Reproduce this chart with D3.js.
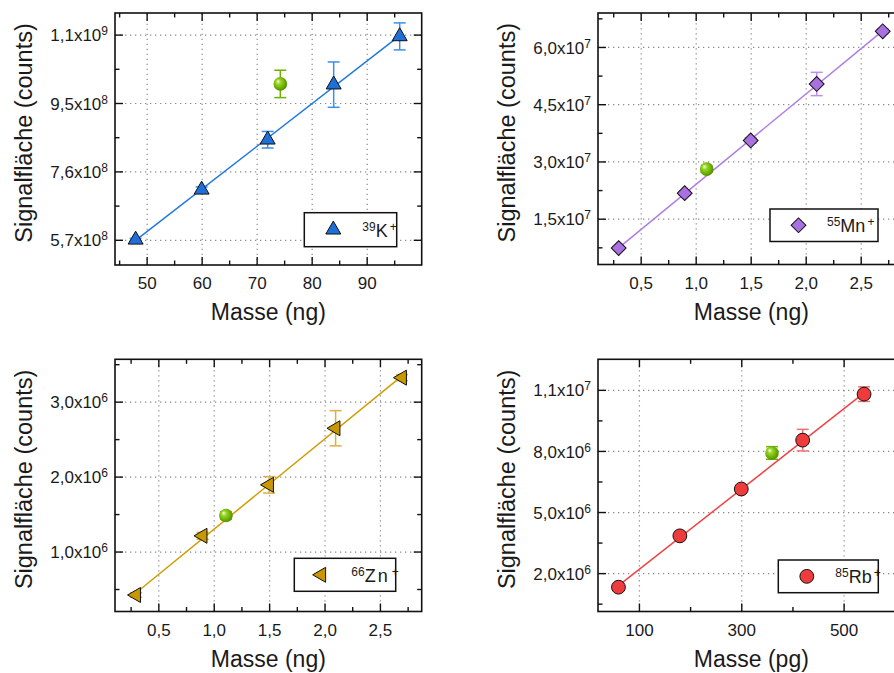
<!DOCTYPE html>
<html><head><meta charset="utf-8">
<script src="https://cdn.jsdelivr.net/npm/d3@7"></script>
<style>
body{margin:0;background:#fff}
svg{display:block}
text{font-family:"Liberation Sans",Arial,sans-serif;fill:#1a1a1a}
</style>
</head><body>
<svg id="c" width="894" height="673"></svg>
<script>
// ---------- data ----------
// 39K+
const kMass = [48, 60, 72, 84, 96];
const kSignal = [5.70e8, 7.09e8, 8.48e8, 10.01e8, 11.35e8];
const kErr = [0.04e8, 0.08e8, 0.23e8, 0.63e8, 0.375e8];
const kRefMass = [74.3];
const kRefSignal = [10.03e8];
const kRefErr = [0.38e8];
const kXTicks = [50, 60, 70, 80, 90];
const kXTickLabels = ["50", "60", "70", "80", "90"];
const kXMinor = [45, 55, 65, 75, 85, 95];
const kYTicks = [5.7e8, 7.6e8, 9.5e8, 11.4e8];
const kYTickLabels = ["5,7x10^8", "7,6x10^8", "9,5x10^8", "1,1x10^9"];
const kYMinor = [6.65e8, 8.55e8, 10.45e8];

// 55Mn+
const mnMass = [0.3, 0.9, 1.5, 2.1, 2.7];
const mnSignal = [0.73e7, 2.17e7, 3.55e7, 5.03e7, 6.41e7];
const mnErr = [0.04e7, 0.05e7, 0.07e7, 0.305e7, 0.06e7];
const mnRefMass = [1.1];
const mnRefSignal = [2.80e7];
const mnRefErr = [0.08e7];
const mnXTicks = [0.5, 1.0, 1.5, 2.0, 2.5];
const mnXTickLabels = ["0,5", "1,0", "1,5", "2,0", "2,5"];
const mnXMinor = [0.25, 0.75, 1.25, 1.75, 2.25, 2.75];
const mnYTicks = [1.5e7, 3.0e7, 4.5e7, 6.0e7];
const mnYTickLabels = ["1,5x10^7", "3,0x10^7", "4,5x10^7", "6,0x10^7"];
const mnYMinor = [0.75e7, 2.25e7, 3.75e7, 5.25e7, 6.75e7];

// 66Zn+
const znMass = [0.3, 0.9, 1.5, 2.1, 2.7];
const znSignal = [0.42e6, 1.21e6, 1.89e6, 2.645e6, 3.32e6];
const znErr = [0.03e6, 0.045e6, 0.11e6, 0.235e6, 0.04e6];
const znRefMass = [1.11];
const znRefSignal = [1.48e6];
const znRefErr = [0.05e6];
const znXTicks = [0.5, 1.0, 1.5, 2.0, 2.5];
const znXTickLabels = ["0,5", "1,0", "1,5", "2,0", "2,5"];
const znXMinor = [0.25, 0.75, 1.25, 1.75, 2.25, 2.75];
const znYTicks = [1.0e6, 2.0e6, 3.0e6];
const znYTickLabels = ["1,0x10^6", "2,0x10^6", "3,0x10^6"];
const znYMinor = [0.5e6, 1.5e6, 2.5e6, 3.5e6];

// 85Rb+
const rbMass = [60, 180, 300, 420, 540];
const rbSignal = [1.31e6, 3.83e6, 6.13e6, 8.53e6, 10.79e6];
const rbErr = [0.08e6, 0.08e6, 0.1e6, 0.53e6, 0.36e6];
const rbRefMass = [360];
const rbRefSignal = [7.9e6];
const rbRefErr = [0.31e6];
const rbXTicks = [100, 300, 500];
const rbXTickLabels = ["100", "300", "500"];
const rbXMinor = [200, 400];
const rbYTicks = [2e6, 5e6, 8e6, 11e6];
const rbYTickLabels = ["2,0x10^6", "5,0x10^6", "8,0x10^6", "1,1x10^7"];
const rbYMinor = [0.5e6, 3.5e6, 6.5e6, 9.5e6];

const yTitle = "Signalfläche (counts)";

// ---------- drawing ----------
const svg = d3.select("#c");
const defs = svg.append("defs");
const grad = defs.append("radialGradient").attr("id", "ball")
  .attr("cx", "45%").attr("cy", "45%").attr("r", "60%").attr("fx", "32%").attr("fy", "30%");
grad.append("stop").attr("offset", "0%").attr("stop-color", "#f4ffe0");
grad.append("stop").attr("offset", "30%").attr("stop-color", "#9ad62a");
grad.append("stop").attr("offset", "75%").attr("stop-color", "#66a800");
grad.append("stop").attr("offset", "100%").attr("stop-color", "#4c8600");

const FONT = '"Liberation Sans", Arial, sans-serif';

function markerPath(kind) {
  if (kind === "triUp") return { d: d3.symbol(d3.symbolTriangle, 97)(), rot: 0 };
  if (kind === "triLeft") return { d: d3.symbol(d3.symbolTriangle, 97)(), rot: -90 };
  if (kind === "diamond") return { d: d3.symbol(d3.symbolSquare, 110)(), rot: 45 };
  return { d: d3.symbol(d3.symbolCircle, 150)(), rot: 0 };
}

function supText(sel, label) {
  const parts = label.split("^");
  sel.text(parts[0]);
  if (parts[1]) sel.append("tspan").attr("dy", "-0.5em").attr("font-size", "12px").text(parts[1]);
}

function drawPanel(p) {
  const g = svg.append("g");
  const x = d3.scaleLinear().domain(p.xDomain).range([p.left, p.right]);
  const y = d3.scaleLinear().domain(p.yDomain).range([p.bottom, p.top]);
  const h = p.bottom - p.top, w = p.right - p.left;

  // grid
  const gridX = g.append("g").attr("transform", `translate(0,${p.bottom})`)
    .call(d3.axisBottom(x).tickValues(p.xTicks).tickSize(-h).tickFormat(""));
  const gridY = g.append("g").attr("transform", `translate(${p.left},0)`)
    .call(d3.axisLeft(y).tickValues(p.yTicks).tickSize(-w).tickFormat(""));
  [gridX, gridY].forEach(a => {
    a.select(".domain").remove();
    a.selectAll("line").attr("stroke", "#8a8a8a").attr("stroke-width", 1.2).attr("stroke-dasharray", "1.3,3.7");
  });

  // fit line (least squares from the data)
  const mx = d3.mean(p.mass), my = d3.mean(p.signal);
  const sxy = d3.sum(p.mass, (m, i) => (m - mx) * (p.signal[i] - my));
  const sxx = d3.sum(p.mass, m => (m - mx) * (m - mx));
  const slope = sxy / sxx, icpt = my - slope * mx;
  const ext = d3.extent(p.mass);
  g.append("path").datum(ext.map(m => [m, icpt + slope * m]))
    .attr("d", d3.line().x(d => x(d[0])).y(d => y(d[1])))
    .attr("fill", "none").attr("stroke", p.line).attr("stroke-width", 1.5);

  // error bars
  function errBars(ms, ss, es, col) {
    const eg = g.append("g").attr("stroke", col).attr("stroke-width", 1.5);
    ms.forEach((m, i) => {
      const cx = x(m), y0 = y(ss[i] - es[i]), y1 = y(ss[i] + es[i]);
      eg.append("line").attr("x1", cx).attr("x2", cx).attr("y1", y0).attr("y2", y1);
      eg.append("line").attr("x1", cx - 6).attr("x2", cx + 6).attr("y1", y0).attr("y2", y0);
      eg.append("line").attr("x1", cx - 6).attr("x2", cx + 6).attr("y1", y1).attr("y2", y1);
    });
  }
  errBars(p.mass, p.signal, p.err, p.errCol);
  errBars(p.refMass, p.refSignal, p.refErr, "#6cb000");

  // markers
  const mk = markerPath(p.marker);
  g.selectAll("path.mk").data(p.mass).join("path").attr("class", "mk")
    .attr("d", mk.d)
    .attr("transform", (m, i) => `translate(${x(m)},${y(p.signal[i])}) rotate(${mk.rot})`)
    .attr("fill", p.fill).attr("stroke", "#111").attr("stroke-width", 1);
  g.selectAll("circle.ref").data(p.refMass).join("circle").attr("class", "ref")
    .attr("cx", m => x(m)).attr("cy", (m, i) => y(p.refSignal[i])).attr("r", 6.8)
    .attr("fill", "url(#ball)");

  // frame
  g.append("rect").attr("x", p.left).attr("y", p.top).attr("width", w).attr("height", h)
    .attr("fill", "none").attr("stroke", "#111").attr("stroke-width", 1.6);

  // ticks (inward) on all four sides
  const tickAxes = [
    [d3.axisBottom(x), `translate(0,${p.bottom})`, p.xTicks, p.xMinor],
    [d3.axisTop(x), `translate(0,${p.top})`, p.xTicks, p.xMinor],
    [d3.axisLeft(y), `translate(${p.left},0)`, p.yTicks, p.yMinor],
    [d3.axisRight(y), `translate(${p.right},0)`, p.yTicks, p.yMinor]
  ];
  tickAxes.forEach(([ax, tr, maj, min]) => {
    const a1 = g.append("g").attr("transform", tr).call(ax.tickValues(maj).tickSize(-8).tickFormat(""));
    a1.select(".domain").remove();
    a1.selectAll("line").attr("stroke", "#111").attr("stroke-width", 1.4);
    const a2 = g.append("g").attr("transform", tr).call(ax.tickValues(min).tickSize(-4.5).tickFormat(""));
    a2.select(".domain").remove();
    a2.selectAll("line").attr("stroke", "#111").attr("stroke-width", 1.4);
  });

  // tick labels
  const xl = g.append("g").attr("transform", `translate(0,${p.bottom})`)
    .call(d3.axisBottom(x).tickValues(p.xTicks).tickSize(0).tickPadding(12)
      .tickFormat((d, i) => p.xTickLabels[i]));
  xl.select(".domain").remove();
  xl.attr("font-size", 17).attr("font-family", FONT);
  xl.selectAll("text").attr("fill", "#1a1a1a");

  const yl = g.append("g").attr("transform", `translate(${p.left},0)`)
    .call(d3.axisLeft(y).tickValues(p.yTicks).tickSize(0).tickPadding(7).tickFormat(""));
  yl.select(".domain").remove();
  yl.attr("font-size", 17).attr("font-family", FONT);
  yl.selectAll(".tick text").each(function (d, i) {
    supText(d3.select(this).attr("fill", "#1a1a1a").attr("dy", "0.36em"), p.yTickLabels[i]);
  });

  // axis titles
  g.append("text").attr("x", (p.left + p.right) / 2).attr("y", p.bottom + 55)
    .attr("text-anchor", "middle").attr("font-size", 23).text(p.xTitle);
  g.append("text").attr("transform", `translate(${p.left - 83},${(p.top + p.bottom) / 2 - 6}) rotate(-90)`)
    .attr("text-anchor", "middle").attr("font-size", 23.5).text(yTitle);

  // legend
  const L = p.legend;
  const lg = g.append("g");
  lg.append("rect").attr("x", L.x).attr("y", L.y).attr("width", L.w).attr("height", L.h)
    .attr("fill", "#fff").attr("stroke", "#111").attr("stroke-width", 1.5);
  lg.append("path").attr("d", mk.d)
    .attr("transform", `translate(${L.x + L.mx},${L.y + L.h / 2}) rotate(${mk.rot})`)
    .attr("fill", p.fill).attr("stroke", "#111").attr("stroke-width", 1);
  const t = lg.append("text").attr("x", L.x + L.tx).attr("y", L.y + L.h / 2 + 7).attr("font-size", 18);
  t.append("tspan").attr("font-size", 12).attr("dy", -6).text(p.iso[0]);
  t.append("tspan").attr("dy", 6).attr("letter-spacing", p.iso[3] || 0).text(p.iso[1]);
  t.append("tspan").attr("font-size", 12).attr("dy", -6).attr("dx", 2).text(p.iso[2]);
}

const panels = [
  { left: 115, right: 421.7, top: 13, bottom: 265,
    xDomain: [44.25, 100], yDomain: [5.0e8, 12.0e8],
    mass: kMass, signal: kSignal, err: kErr,
    refMass: kRefMass, refSignal: kRefSignal, refErr: kRefErr,
    xTicks: kXTicks, xTickLabels: kXTickLabels, xMinor: kXMinor,
    yTicks: kYTicks, yTickLabels: kYTickLabels, yMinor: kYMinor,
    marker: "triUp", fill: "#1f6fd8", line: "#1f78e0", errCol: "#3d8ee6",
    xTitle: "Masse (ng)", iso: ["39", "K", "+"],
    legend: { x: 304.3, y: 212.7, w: 92.4, h: 34, mx: 29, tx: 58 } },
  { left: 598, right: 904.7, top: 13, bottom: 264.5,
    xDomain: [0.112, 2.8999], yDomain: [0.3e7, 6.89e7],
    mass: mnMass, signal: mnSignal, err: mnErr,
    refMass: mnRefMass, refSignal: mnRefSignal, refErr: mnRefErr,
    xTicks: mnXTicks, xTickLabels: mnXTickLabels, xMinor: mnXMinor,
    yTicks: mnYTicks, yTickLabels: mnYTickLabels, yMinor: mnYMinor,
    marker: "diamond", fill: "#a970e0", line: "#b07de6", errCol: "#bf8ee8",
    xTitle: "Masse (ng)", iso: ["55", "Mn", "+"],
    legend: { x: 770, y: 209, w: 108, h: 32.5, mx: 28.5, tx: 57 } },
  { left: 115, right: 421.7, top: 359.3, bottom: 611.5,
    xDomain: [0.109, 2.877], yDomain: [0.2e6, 3.565e6],
    mass: znMass, signal: znSignal, err: znErr,
    refMass: znRefMass, refSignal: znRefSignal, refErr: znRefErr,
    xTicks: znXTicks, xTickLabels: znXTickLabels, xMinor: znXMinor,
    yTicks: znYTicks, yTickLabels: znYTickLabels, yMinor: znYMinor,
    marker: "triLeft", fill: "#c99700", line: "#d09c00", errCol: "#dcb040",
    xTitle: "Masse (ng)", iso: ["66", "Zn", "+", 2],
    legend: { x: 294.3, y: 558.3, w: 101.4, h: 33, mx: 27, tx: 57 } },
  { left: 598, right: 904.7, top: 359.3, bottom: 611.5,
    xDomain: [20, 619.4], yDomain: [0.115e6, 12.5e6],
    mass: rbMass, signal: rbSignal, err: rbErr,
    refMass: rbRefMass, refSignal: rbRefSignal, refErr: rbRefErr,
    xTicks: rbXTicks, xTickLabels: rbXTickLabels, xMinor: rbXMinor,
    yTicks: rbYTicks, yTickLabels: rbYTickLabels, yMinor: rbYMinor,
    marker: "circle", fill: "#ee3c3c", line: "#ee4444", errCol: "#f07272",
    xTitle: "Masse (pg)", iso: ["85", "Rb", "+"],
    legend: { x: 778.3, y: 560, w: 100, h: 32.7, mx: 28.5, tx: 57 } }
];
panels.forEach(drawPanel);
</script>
</body></html>
